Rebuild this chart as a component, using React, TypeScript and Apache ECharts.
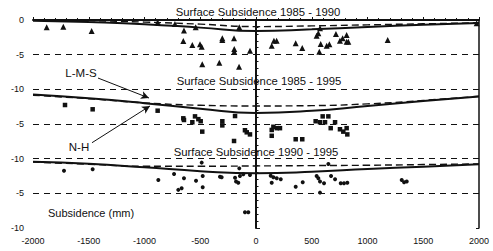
import React, { useEffect, useRef } from "react";
import * as echarts from "echarts";

const xTicks = [-2000, -1500, -1000, -500, 0, 500, 1000, 1500, 2000];
const yTickLabels: Record<string, string> = {
  "0": "0", "-5": "-5", "-10": "-10", "-15": "-5", "-20": "-10", "-25": "-5", "-30": "-10",
};
const titles = ["Surface Subsidence 1985 - 1990", "Surface Subsidence 1985 - 1995", "Surface Subsidence 1990 - 1995"];
const guideLevels = [-5, -10, -15, -20, -25];

// prediction curves, sampled at xTicks
const p1LMS = [-0.1, -0.3, -0.6, -1.1, -1.6, -1.35, -1.0, -0.7, -0.45];
const p1NH = [0, -0.1, -0.3, -0.6, -0.95, -0.85, -0.7, -0.55, -0.4];
const p2LMS = [-10.75, -11.3, -12.0, -12.8, -13.4, -13.1, -12.4, -11.7, -11.05];
const p2NH = [-10.85, -11.35, -11.95, -12.3, -12.4, -12.35, -12.1, -11.6, -11.0];
const p3LMS = [-20.45, -20.75, -21.25, -21.8, -22.1, -21.9, -21.5, -21.15, -20.8];
const p3NH = [-20.5, -20.8, -21.1, -21.1, -21.05, -21.0, -20.95, -20.85, -20.75];

// measured points
const p1Tri = [
  [-1877, -1.05], [-1728, -0.96], [-1474, -1.59], [-882, -0.33], [-727, -0.58], [-646, -1.5], [-541, -1.05], [-150, -1.05],
  [-652, -3.03], [-571, -3.6], [-502, -3.5], [-487, -3.85], [-302, -2.64], [-302, -2.9], [-197, -2.64], [-195, -4.18], [-195, -4.57], [-54, -4.42],
  [-482, -6.39], [-329, -6.15], [-152, -6.73],
  [141, -3.7], [161, -2.98], [185, -2.98], [356, -3.36], [415, -4.04], [544, -2.26], [559, -1.92], [574, -1.2], [568, -4.57], [580, -3.46],
  [634, -3.7], [658, -3.5], [717, -2.02], [753, -2.98], [777, -2.64], [813, -2.16], [813, -3.13], [828, -3.13], [1181, -2.88], [1979, -0.48],
];
const p2Sq = [
  [-1713, -12.26], [-1465, -12.88], [-882, -13.08], [-652, -14.18], [-646, -14.42], [-571, -14.75], [-547, -13.9], [-517, -14.3], [-496, -14.6],
  [-482, -16.1], [-302, -14.6], [-302, -15.2], [-188, -13.85], [-197, -17.45], [-99, -15.9], [-83, -16.2], [-54, -16.5],
  [141, -15.86], [156, -15.4], [186, -15.6], [215, -15.6], [141, -16.7], [356, -17.2], [415, -17.2], [535, -14.6], [574, -14.75], [598, -13.9],
  [619, -14.75], [649, -13.9], [670, -15.6], [709, -14.75], [753, -15.76], [783, -16.1], [813, -15.6], [819, -16.5],
];
const p3Dot = [
  [-1722, -21.73], [-1465, -21.53], [-876, -23.07], [-735, -22.2], [-697, -24.5], [-667, -24.27], [-646, -22.83], [-538, -23.2], [-487, -20.57],
  [-478, -22.5], [-478, -24.13], [-323, -22.6], [-308, -22.68], [-188, -22.74], [-179, -23.3], [-159, -23.46], [-144, -22.5], [-150, -21.4],
  [-114, -22.25], [-54, -22.35], [-99, -27.73], [-69, -27.73],
  [132, -22.45], [156, -22.68], [186, -22.83], [222, -22.97], [141, -23.46], [356, -24.04], [419, -23.4], [544, -22.5], [559, -22.83],
  [574, -23.3], [610, -23.55], [574, -24.9], [649, -20.77], [673, -22.5], [709, -22.97], [760, -23.55], [789, -23.55], [819, -23.46],
  [1307, -23.07], [1328, -23.4], [1352, -23.3],
];
// arrows: from label to curve
const arrowLMS = [[-1417, -8.37], [-960, -11.25]];
const arrowNH = [[-1471, -17.7], [-951, -12.4]];

const INK = "#111111";
const FONT = "'Liberation Sans', Arial, sans-serif";

export default function App() {
  const ref = useRef<HTMLDivElement>(null);
  useEffect(() => {
    if (!ref.current) return;
    const chart = echarts.init(ref.current, undefined, { renderer: "svg" });
    const curve = (d: number[], dashed: boolean) => ({
      type: "line",
      data: xTicks.map((x, i) => [x, d[i]]),
      smooth: true,
      showSymbol: false,
      symbol: "none",
      lineStyle: { color: INK, width: dashed ? 1.4 : 2, type: dashed ? [7, 4] : "solid" },
      z: 3,
    });
    const scatter = (d: number[][], symbol: string, size: number) => ({
      type: "scatter",
      data: d,
      symbol,
      symbolSize: size,
      itemStyle: { color: INK, opacity: 1 },
      z: 4,
    });
    const arrow = (a: number[][]) => [
      { coord: a[0], symbol: "none" },
      { coord: a[1], symbol: "arrow", symbolSize: [6, 8] },
    ];
    chart.setOption({
      animation: false,
      backgroundColor: "#ffffff",
      grid: { left: 33, right: 14, top: 20, bottom: 23, containLabel: false },
      xAxis: {
        type: "value",
        min: -2000,
        max: 2000,
        interval: 500,
        axisLine: { show: true, lineStyle: { color: INK, width: 2 } },
        axisTick: { show: true, inside: true, length: 3, lineStyle: { color: INK } },
        minorTick: { show: true, splitNumber: 5, length: 2, lineStyle: { color: INK } },
        splitLine: { show: false },
        axisLabel: { color: INK, fontSize: 9, fontFamily: FONT, margin: 8, formatter: (v: number) => String(v) },
      },
      yAxis: [
        {
          type: "value",
          min: -30,
          max: 0,
          interval: 5,
          axisLine: { show: true, lineStyle: { color: INK, width: 2 } },
          axisTick: { show: true, inside: true, length: 4, lineStyle: { color: INK } },
          minorTick: { show: true, splitNumber: 5, length: 2.5, lineStyle: { color: INK } },
          splitLine: { show: false },
          axisLabel: {
            color: INK, fontSize: 9, fontFamily: FONT, margin: 9,
            formatter: (v: number) => yTickLabels[String(v)] ?? String(v),
          },
        },
        {
          type: "value",
          position: "right",
          min: -30,
          max: 0,
          interval: 5,
          axisLine: { show: true, lineStyle: { color: INK, width: 1.5 } },
          axisTick: { show: true, inside: true, length: 3, lineStyle: { color: INK } },
          splitLine: { show: false },
          axisLabel: { show: false },
        },
      ],
      series: [
        {
          type: "line",
          data: [],
          markLine: {
            silent: true,
            symbol: "none",
            label: { show: false },
            lineStyle: { color: INK, width: 1, type: [6, 5] },
            data: guideLevels.map((v) => ({ yAxis: v })),
          },
        },
        {
          type: "line",
          data: [],
          markLine: {
            silent: true,
            symbol: "none",
            label: { show: false },
            lineStyle: { color: INK, width: 1, type: "solid" },
            data: [{ xAxis: 0 }],
          },
        },
        curve(p1LMS, false),
        curve(p1NH, true),
        curve(p2LMS, false),
        curve(p2NH, true),
        curve(p3LMS, false),
        curve(p3NH, true),
        scatter(p1Tri, "triangle", 6),
        scatter(p2Sq, "rect", 4.5),
        {
          ...scatter(p3Dot, "circle", 4),
          markLine: {
            silent: true,
            label: { show: false },
            lineStyle: { color: INK, width: 1, type: "solid" },
            data: [arrow(arrowLMS), arrow(arrowNH)],
          },
        },
      ],
      graphic: [
        ...titles.map((t, i) => ({
          type: "text",
          x: [258, 259, 256][i],
          y: [12, 81, 152][i],
          style: { text: t, fill: INK, font: `11.3px ${FONT}`, textAlign: "center", textVerticalAlign: "middle" },
        })),
        { type: "text", x: 81, y: 73, style: { text: "L-M-S", fill: INK, font: `11.5px ${FONT}`, textAlign: "center", textVerticalAlign: "middle" } },
        { type: "text", x: 79, y: 147, style: { text: "N-H", fill: INK, font: `11.5px ${FONT}`, textAlign: "center", textVerticalAlign: "middle" } },
        { type: "text", x: 48, y: 213, style: { text: "Subsidence (mm)", fill: INK, font: `11px ${FONT}`, textAlign: "left", textVerticalAlign: "middle" } },
      ],
    });
    return () => chart.dispose();
  }, []);
  return <div ref={ref} style={{ position: "fixed", left: 0, top: 0, width: 493, height: 251 }} />;
}
